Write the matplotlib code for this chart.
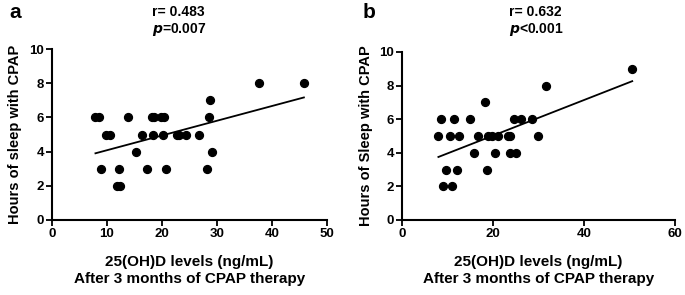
import numpy as np
import matplotlib.pyplot as plt

plt.rcParams['font.family'] = ['Liberation Sans', 'DejaVu Sans']
plt.rcParams['font.weight'] = 'bold'

# panel a: 25(OH)D vs hours of sleep with CPAP
a_x = [7.9, 8.5, 13.9, 18.2, 18.5, 19.8, 20.4, 28.5,
       37.7, 45.8, 28.8,
       9.8, 10.5, 16.4, 18.4, 20.2, 22.7, 23.0, 24.4, 26.8,
       15.2, 29.0,
       8.9, 12.2, 17.3, 20.7, 28.2,
       11.8, 12.4]
a_y = [6, 6, 6, 6, 6, 6, 6, 6,
       8, 8, 7,
       5, 5, 5, 5, 5, 5, 5, 5, 5,
       4, 4,
       3, 3, 3, 3, 3,
       2, 2]

# panel b
b_x = [50.6, 31.6, 18.3,
       8.5, 11.5, 15.0, 24.7, 26.1, 28.5,
       8.0, 10.5, 12.5, 16.7, 18.8, 19.8, 21.2, 23.2, 23.8, 29.9,
       15.9, 20.4, 23.8, 25.0,
       9.7, 12.1, 18.6,
       9.0, 10.9]
b_y = [9, 8, 7,
       6, 6, 6, 6, 6, 6,
       5, 5, 5, 5, 5, 5, 5, 5, 5, 5,
       4, 4, 4, 4,
       3, 3, 3,
       2, 2]

fig = plt.figure(figsize=(6.85, 2.95), dpi=100)
W, H = 685, 295

def panel(rect, xs, ys, xmax, xstep, ylabel, letter, r_txt, p_txt, letter_x, title_x, ylab_x):
    l, t, r, b = rect
    ax = fig.add_axes([l / W, 1 - b / H, (r - l) / W, (b - t) / H])
    ax.scatter(xs, ys, s=32, color='black', zorder=3, clip_on=False)
    k, c = np.polyfit(xs, ys, 1)
    lx = np.array([min(xs), max(xs)])
    ax.plot(lx, k * lx + c, color='black', lw=1.3)
    ax.set_xlim(0, xmax)
    ax.set_ylim(0, 10)
    ax.set_xticks(np.arange(0, xmax + 1, xstep))
    ax.set_yticks(np.arange(0, 11, 2))
    for s in ['top', 'right']:
        ax.spines[s].set_visible(False)
    for s in ['left', 'bottom']:
        ax.spines[s].set_linewidth(1.5)
    ax.tick_params(width=1.3, length=4, labelsize=9.5, pad=1.5)
    for lab in ax.get_xticklabels() + ax.get_yticklabels():
        lab.set_fontweight('bold')
    ax.set_xlabel('25(OH)D levels (ng/mL)\nAfter 3 months of CPAP therapy',
                  fontsize=11, fontweight='bold', labelpad=11, linespacing=1.25)
    fig.text(ylab_x / W, 1 - (t + b) / 2 / H, ylabel, rotation=90, ha='center', va='center',
             fontsize=10.5, fontweight='bold')
    fig.text(letter_x / W, 1 - 13 / H, letter, fontsize=15, fontweight='bold', ha='left', va='center')
    fig.text(title_x / W, 1 - 12 / H, r_txt, fontsize=10, fontweight='bold', ha='left', va='center')
    fig.text(title_x / W, 1 - 30 / H, p_txt, fontsize=10, fontweight='bold', ha='left', va='center')
    return ax

panel((52, 49, 327, 220), a_x, a_y, 50, 10, 'Hours of sleep with CPAP', 'a',
      'r= 0.483', r'$\boldsymbol{p}$=0.007', 9, 152, 15)
panel((402, 52, 675, 220), b_x, b_y, 60, 20, 'Hours of Sleep with CPAP', 'b',
      'r= 0.632', r'$\boldsymbol{p}$<0.001', 363, 509, 366)

fig.savefig('out.png', dpi=100)
